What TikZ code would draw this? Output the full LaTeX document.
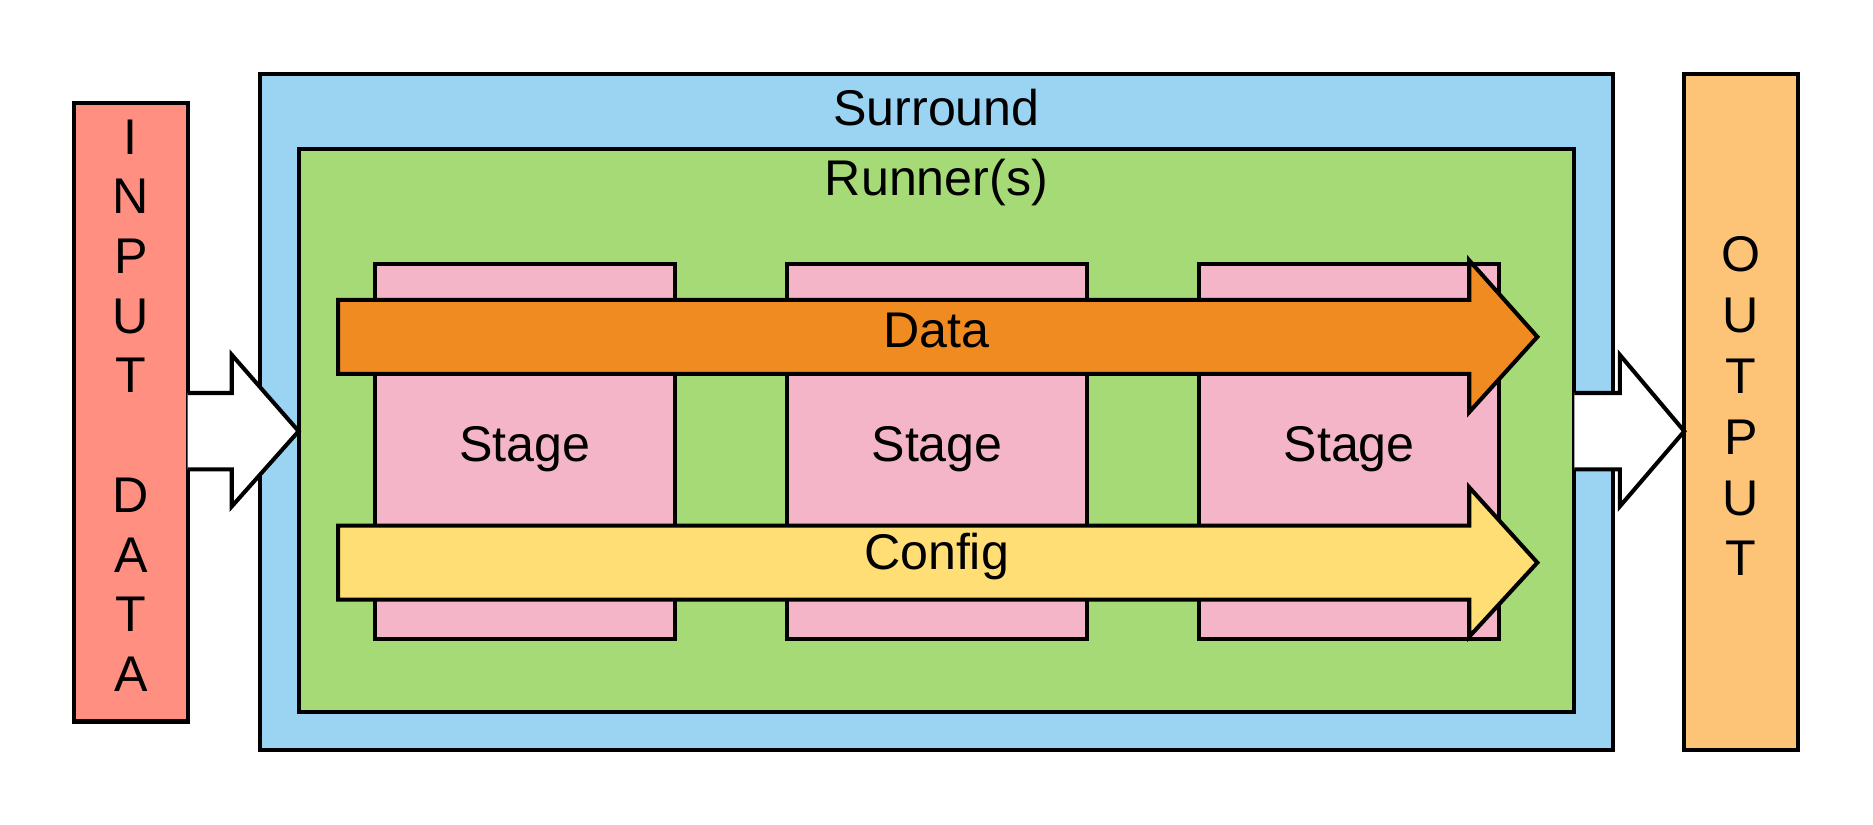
\documentclass[tikz,border=0pt]{standalone}
\usepackage{fontspec}
\setmainfont{Liberation Sans}
\definecolor{inred}{RGB}{255,143,128}
\definecolor{surblue}{RGB}{155,211,242}
\definecolor{rungreen}{RGB}{165,218,118}
\definecolor{stpink}{RGB}{243,181,199}
\definecolor{dataorange}{RGB}{240,139,34}
\definecolor{cfgyellow}{RGB}{255,222,117}
\definecolor{outorange}{RGB}{253,196,120}
\tikzset{
  box/.style={draw=black, line width=1.7pt, inner sep=0pt, outer sep=0pt},
  lbl/.style={font=\fontsize{21}{25}\selectfont, inner sep=0pt},
  fatarrow/.style={draw=black, line width=1.7pt, line join=miter, miter limit=10},
}
\begin{document}
\begin{tikzpicture}[x=0.5pt,y=-0.5pt]
\useasboundingbox (0,0) rectangle (1568,690);
% boxes
\node[box, fill=inred, minimum width=47.5pt, minimum height=259pt] (input) at (109.5,345) {};
\node[box, fill=surblue, minimum width=566pt, minimum height=283pt] (surround) at (784,345) {};
\node[box, fill=rungreen, minimum width=534pt, minimum height=235.5pt] (runner) at (784,360.5) {};
\node[box, fill=stpink, minimum width=125.5pt, minimum height=157pt] (st1) at (439.5,378) {};
\node[box, fill=stpink, minimum width=125.5pt, minimum height=157pt] (st2) at (784.5,378) {};
\node[box, fill=stpink, minimum width=125.5pt, minimum height=157pt] (st3) at (1129.5,378) {};
\node[box, fill=outorange, minimum width=47.5pt, minimum height=283pt] (output) at (1457.5,345) {};
% labels
\node[lbl] (surlbl) at (784,90) {Surround};
\node[lbl] (runlbl) at (784,153) {Runner(s)};
\node[lbl] (st1lbl) at (st1.center) [yshift=0.8pt] {Stage};
\node[lbl] (st2lbl) at (st2.center) [yshift=0.8pt] {Stage};
\node[lbl] (st3lbl) at (st3.center) [yshift=0.8pt] {Stage};
% fat arrows
\draw[fatarrow, fill=dataorange] (283,251) -- (1230,251) -- (1230,218) -- (1287,282) -- (1230,345) -- (1230,313) -- (283,313) -- cycle;
\draw[fatarrow, fill=cfgyellow] (283,440) -- (1230,440) -- (1230,408) -- (1287,471) -- (1230,533) -- (1230,502) -- (283,502) -- cycle;
\node[lbl] (datalbl) at (784,277) {Data};
\node[lbl] (cfglbl) at (784,466) {Config};
% white flow arrows
\draw[fatarrow, fill=white] (input.east |- 0,329) -- (194,329) -- (194,297) -- (runner.west |- 0,361) -- (194,424) -- (194,393) -- (input.east |- 0,393);
\draw[fatarrow, fill=white] (runner.east |- 0,329) -- (1356,329) -- (1356,297) -- (output.west |- 0,361) -- (1356,424) -- (1356,393) -- (runner.east |- 0,393);
% vertical texts
\node[lbl, align=center, font=\fontsize{21}{25}\selectfont] (intext) at (109.5,339.5) {I\\N\\P\\U\\T\\[25pt]D\\A\\T\\A};
\node[lbl, align=center, font=\fontsize{21}{25.5}\selectfont] (outtext) at (1457.5,340) {O\\U\\T\\P\\U\\T};
\end{tikzpicture}
\end{document}
